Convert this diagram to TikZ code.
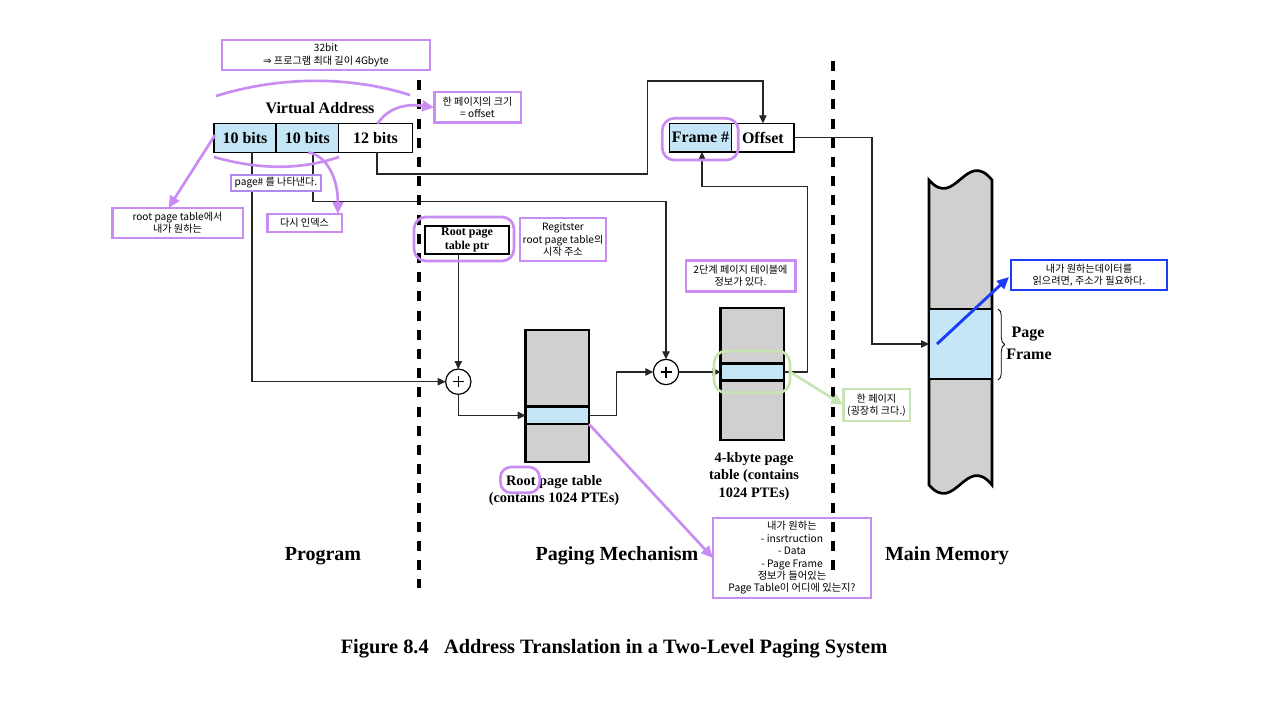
\documentclass[tikz,border=0pt]{standalone}
\usepackage{fontspec}
\setmainfont{Liberation Serif}
\newfontfamily\kr{Noto Sans CJK KR}
\newfontfamily\dv{DejaVu Sans}
\usetikzlibrary{arrows.meta,decorations.pathreplacing,calc}
\definecolor{pur}{HTML}{C98CF2}
\definecolor{pur2}{HTML}{B08AF0}
\definecolor{lblue}{HTML}{C5E6F6}
\definecolor{tgray}{HTML}{D0D0D0}
\definecolor{grn}{HTML}{C8E4B2}
\definecolor{bblue}{HTML}{1C3CF5}
\begin{document}
\begin{tikzpicture}[x=0.75pt,y=-0.75pt,
  every node/.style={inner sep=0pt,outer sep=0pt},
  note/.style={draw=pur,line width=2pt,fill=white,align=center,font=\kr\fontsize{7.6}{9.3}\selectfont},
  cell/.style={draw=black,line width=0.9pt,minimum height=21.5pt,font=\bfseries\fontsize{12}{14}\selectfont},
  bl/.style={fill=lblue},
  wire/.style={line width=0.9pt,draw=black!85},
  arr/.style={wire,-{Triangle[length=6pt,width=5.5pt]}},
  parr/.style={draw=pur,line width=2pt,-{Triangle[length=9pt,width=8pt]}},
  ring/.style={draw=pur,line width=2pt,rounded corners=9pt},
  sepline/.style={line width=3.5pt,dash pattern=on 7.5pt off 6.9pt},
  lbl/.style={font=\bfseries\fontsize{10.8}{13.3}\selectfont,align=center},
  big/.style={font=\bfseries\fontsize{15}{18}\selectfont},
  plus/.style={circle,draw=black,line width=0.9pt,minimum size=19pt},
  tbl/.style={draw=black,line width=2pt,fill=tgray,minimum width=47.5pt,minimum height=99pt},
  ent/.style={draw=black,line width=2pt,fill=lblue,minimum width=47.5pt,minimum height=13pt}
]
\useasboundingbox (0,0) rectangle (1280,709);

% ---------- virtual address ----------
\node[font=\bfseries\fontsize{12}{14}\selectfont] (va) at (320,108) {Virtual Address};
\node[cell,bl,minimum width=46.5pt] (c1) at (245,138) {10 bits};
\node[cell,bl,minimum width=46.5pt] (c2) at (307.3,138) {10 bits};
\node[cell,minimum width=55.5pt] (c3) at (375.5,138) {12 bits\hspace{10pt}};

% ---------- paging mechanism ----------
\node[draw,line width=0.9pt,minimum width=63pt,minimum height=21pt,align=center,
      font=\bfseries\fontsize{9}{10.5}\selectfont] (ptr) at (467,240) {Root page\\table ptr};
\node[plus] (p1) at (458.3,381.7) {};
\node[plus] (p2) at (666,372) {};
\foreach \p in {p1,p2}{
  \draw[line width=0.8pt] ($(\p)+(-5.5,0)$) -- ($(\p)+(5.5,0)$);
  \draw[line width=0.8pt] ($(\p)+(0,-5.5)$) -- ($(\p)+(0,5.5)$);
}
\node[tbl] (rt) at (557.3,396) {};
\node[ent] (rte) at (557.3,415.4) {};
\node[tbl] (kt) at (752.4,373.9) {};
\node[ent] (ke) at (752.4,372) {};

\node[cell,bl,minimum width=46.8pt] (fr) at (700.5,137.7) {Frame \#};
\node[cell,minimum width=46.7pt] (of) at (762.9,137.7) {Offset};

% ---------- main memory ----------
\fill[tgray] (929,180) .. controls (955,210) and (966,148) .. (992,180) -- (992,485)
  .. controls (966,453) and (955,515) .. (929,485) -- cycle;
\draw[line width=2pt] (929,180) .. controls (955,210) and (966,148) .. (992,180) -- (992,485)
  .. controls (966,453) and (955,515) .. (929,485) -- cycle;
\node[draw,line width=2pt,fill=lblue,minimum width=47.25pt,minimum height=52.5pt] (pf) at (960.5,344) {};
\draw[decorate,decoration={brace,amplitude=5pt},line width=0.6pt] (998,309) -- (998,380);
\node[font=\bfseries\fontsize{12}{14}\selectfont] (pgl) at (1028,334) {Page};
\node[font=\bfseries\fontsize{12}{14}\selectfont] (frl) at (1029,354) {Frame};

% ---------- black connectors ----------
\coordinate (k1) at (647.3,174);
\coordinate (k2) at (647.3,81);
\coordinate (k3) at (807.3,186.7);
\coordinate (k4) at (702,186.7);
\draw[arr] ($(c1.south)+(7,0)$) |- (p1.west);
\draw[arr] ($(c2.south)+(5.7,0)$) -- ++(0,49) -| (p2.north);
\draw[arr] ($(c3.south)+(1.5,0)$) |- (k1) -- (k2) -| (of.north);
\draw[arr] (ptr.south -| p1.north) -- (p1.north);
\draw[arr] (p1.south) |- (rte.west);
\draw[arr] (rte.east) -- ++(27.7,0) |- (p2.west);
\draw[arr] (p2.east) -- (ke.west);
\draw[arr] (ke.east) -| (k3) -- (k4) -- (k4 |- fr.south);
\draw[arr] (of.east) -- ++(78,0) |- (pf.west);

% ---------- separators ----------
\draw[sepline] (419,61) -- (419,588);
\draw[sepline] (833,61) -- (833,574);

% ---------- labels ----------
\node[lbl] (rtl) at (554,490.5) {Root page table\\(contains 1024 PTEs)};
\node[lbl] (ktl) at (754,476.5) {4-kbyte page\\table (contains\\1024 PTEs)};
\node[big] (prog) at (323,556) {Program};
\node[big] (pmech) at (617,556) {Paging Mechanism};
\node[big] (mmem) at (947,556) {Main Memory};
\node[font=\bfseries\fontsize{15.3}{18}\selectfont] (cap) at (614,649) {Figure 8.4\enspace{} Address Translation in a Two-Level Paging System};

% ---------- annotations ----------
\draw[pur,line width=2pt] (216,96) .. controls (280,76) and (350,76) .. (410,95);
\draw[pur,line width=2pt] (214,157) .. controls (260,170) and (300,170) .. (339,157);
\node[ring,minimum width=75pt,minimum height=33pt] (ptrring) at (464,239) {};
\node[ring,minimum width=57pt,minimum height=31.3pt] (frring) at (700.3,139.2) {};
\node[ring,rounded corners=8pt,minimum width=29.5pt,minimum height=19.3pt] (rootring) at (520,479.9) {};
\node[ring,draw=grn,minimum width=57pt,minimum height=31.3pt] (kring) at (752,371.9) {};

\node[note,minimum width=156pt,minimum height=22.5pt] (n32) at (326,55) {32bit\\{\dv ⇒} 프로그램 최대 길이 4Gbyte};
\node[note,minimum width=65pt,minimum height=23pt] (noff) at (477.5,107.5) {한 페이지의 크기\\= offset};
\node[note,draw=pur2,minimum width=67.5pt,minimum height=12pt] (npg) at (276,183) {page\# 를 나타낸다.};
\node[note,minimum width=98pt,minimum height=22.5pt] (nroot) at (177.5,223) {root page table에서\\내가 원하는};
\node[note,minimum width=56pt,minimum height=13.5pt] (nidx) at (304.5,223) {다시 인덱스};
\node[note,minimum width=64.5pt,minimum height=32pt] (nreg) at (563,239.5) {Regitster\\root page table의\\시작 주소};
\node[note,minimum width=82pt,minimum height=23pt] (n2lv) at (740.5,276) {2단계 페이지 테이블에\\정보가 있다.};
\node[note,draw=grn,minimum width=50pt,minimum height=24pt] (ngr) at (876.5,405) {한 페이지\\(굉장히 크다.)};
\node[note,draw=bblue,minimum width=117pt,minimum height=22.5pt] (nbl) at (1089,275) {내가 원하는데이터를\\읽으려면, 주소가 필요하다.};
\node[note,fill=none,minimum width=118.5pt,minimum height=60pt,font=\kr\fontsize{7.7}{9.3}\selectfont] (nbt) at (792,558)
  {내가 원하는\\- insrtruction\\- Data\\- Page Frame\\정보가 들어있는\\Page Table이 어디에 있는지?};

\draw[parr] ($(c1.west)+(1,-3)$) -- ($(nroot.north)+(-9,0)$);
\draw[parr] ($(c2.south)+(1,0)$) .. controls (328,156) and (338,180) .. ($(nidx.north east)+(-4,0)$);
\draw[parr] ($(c3.north)+(2,0)$) .. controls (390,105) and (410,104) .. (noff.west);
\draw[parr] (rte.south east) -- (nbt.west);
\draw[draw=grn,line width=2pt,-{Triangle[length=9pt,width=8pt]}] (kring.east) -- (ngr.west);
\draw[draw=bblue,line width=2.2pt,-{Triangle[length=9pt,width=8pt]}] ($(pf.west)+(8,0)$) -- ($(nbl.west)+(-2,2)$);
\end{tikzpicture}
\end{document}
